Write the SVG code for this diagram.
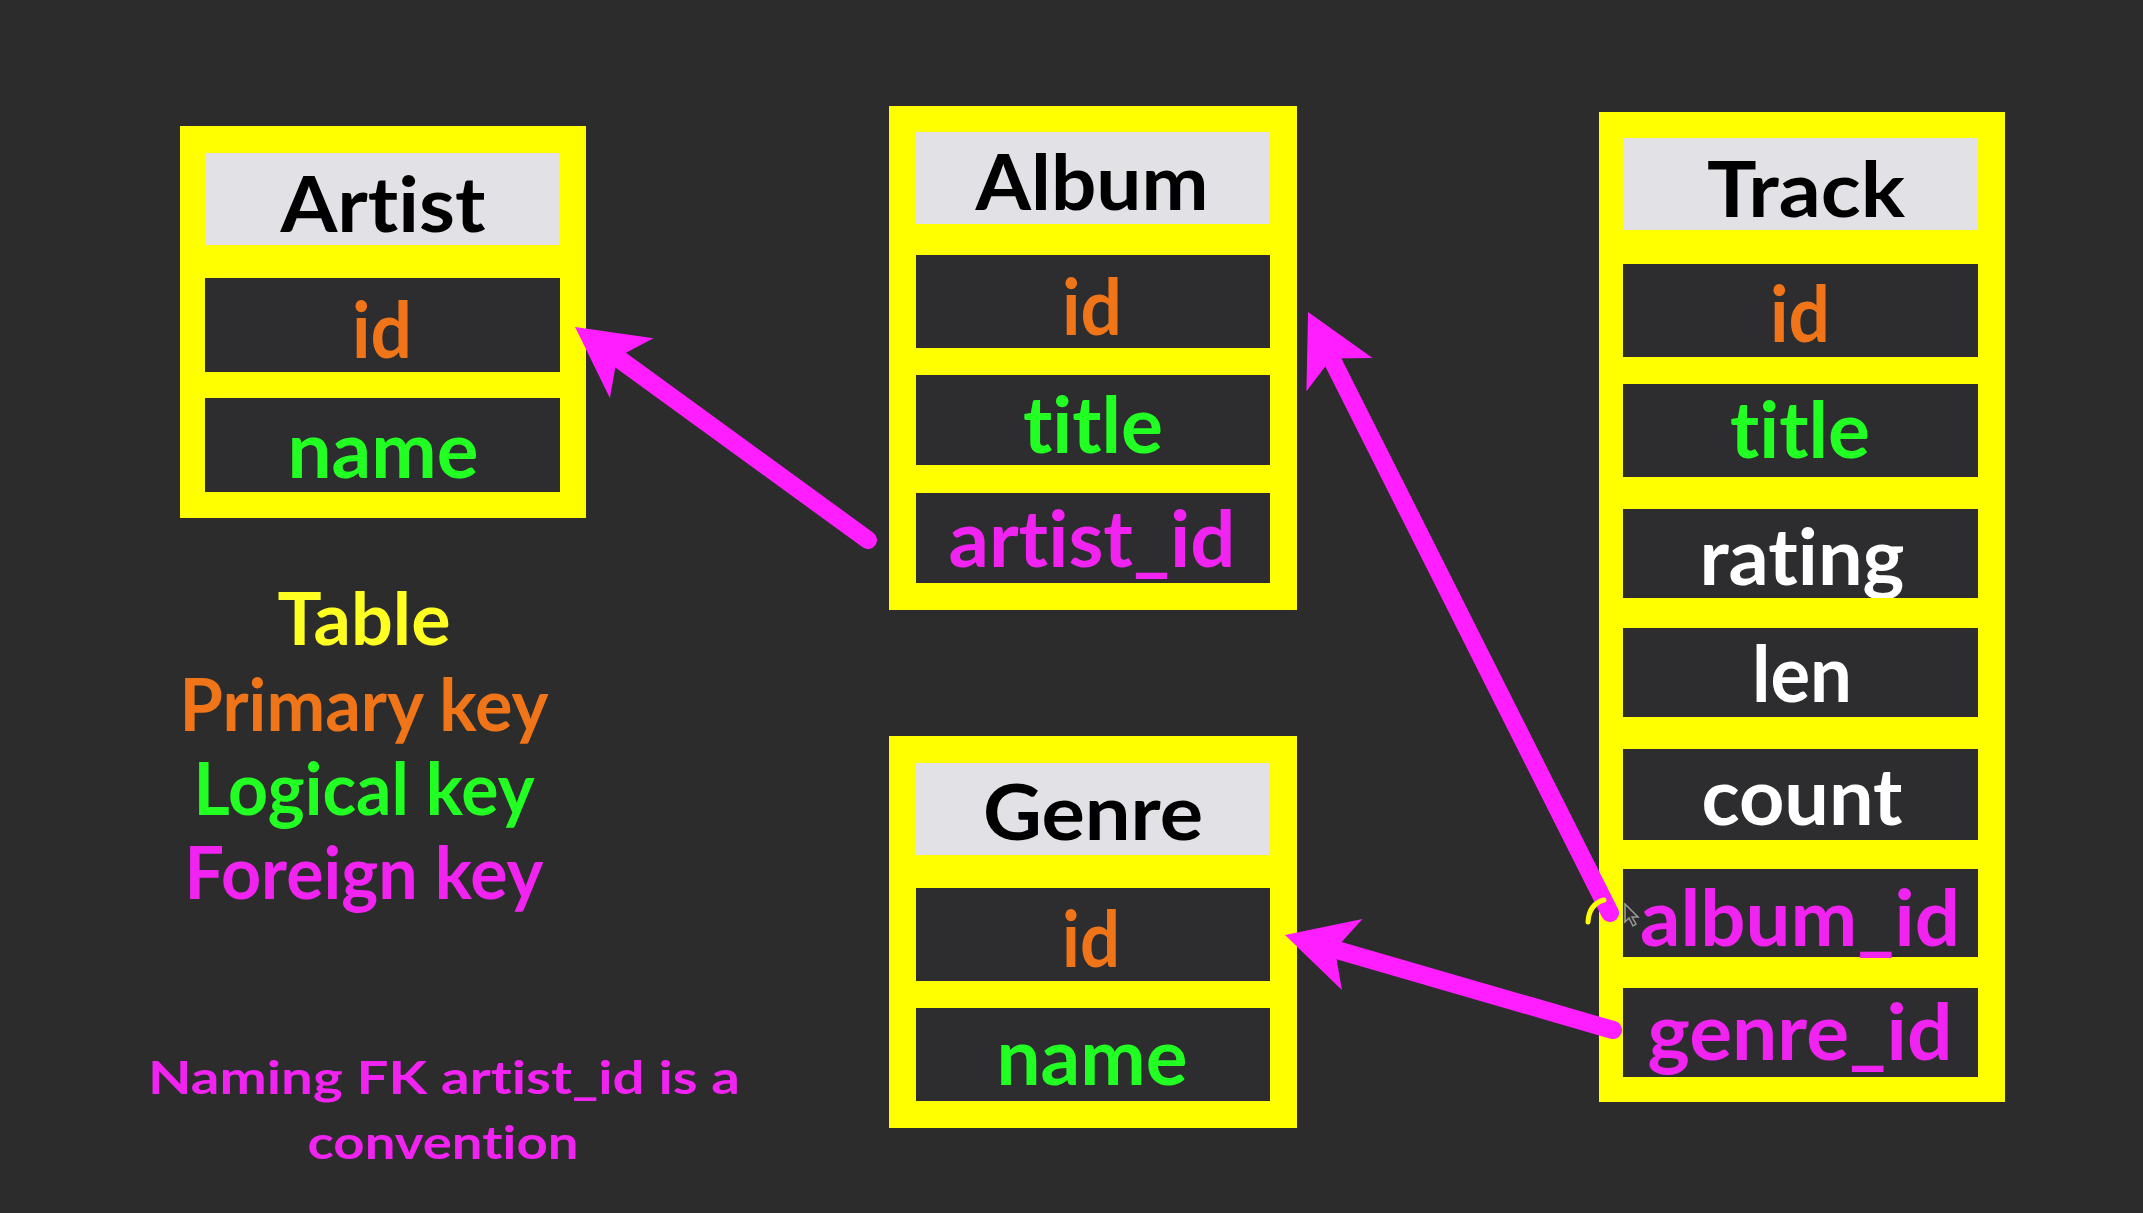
<svg xmlns="http://www.w3.org/2000/svg" width="2143" height="1213" viewBox="0 0 2143 1213">
  <defs>
    <style>
      .frame { fill: #ffff00; }
      .head { fill: #e2e2e6; }
      .row { fill: #2d2d30; }
      text { font-family: "Lato", "Open Sans", "Liberation Sans", sans-serif; font-weight: 700; text-anchor: middle; font-variant-ligatures: none; font-feature-settings: "liga" 0, "clig" 0; }
      .tname { font-size: 76px; fill: #000000; }
      .col { font-size: 78px; }
      .pk { fill: #f07418; }
      .lk { fill: #22ff22; }
      .fk { fill: #f023f0; }
      .plain { fill: #ffffff; }
      .legend { font-size: 72px; }
      .note { font-size: 46px; fill: #f023f0; }
      .link { fill: none; stroke: #ff1eff; stroke-width: 18; stroke-linecap: round; marker-end: url(#arrowhead); }
    </style>
    <marker id="arrowhead" markerUnits="userSpaceOnUse" orient="auto" overflow="visible" markerWidth="1" markerHeight="1" refX="0" refY="0">
      <path d="M50,0 L-20,-37 L-2,0 L-20,37 Z" fill="#ff1eff"/>
    </marker>
    <clipPath id="ratingClip">
      <rect x="1623" y="509" width="355" height="89"/>
    </clipPath>
  </defs>

  <!-- background -->
  <rect x="0" y="0" width="2143" height="1213" fill="#2c2c2c"/>

  <!-- Artist table -->
  <g id="artist">
    <rect class="frame" x="180" y="126" width="406" height="392"/>
    <rect class="head" x="205" y="153" width="355" height="92"/>
    <rect class="row" x="205" y="278" width="355" height="94"/>
    <rect class="row" x="205" y="398" width="355" height="94"/>
    <text class="tname" x="383" y="232" textLength="205" lengthAdjust="spacingAndGlyphs">Artist</text>
    <text class="col pk" x="382" y="358" textLength="60" lengthAdjust="spacingAndGlyphs">id</text>
    <text class="col lk" x="383" y="478" textLength="191" lengthAdjust="spacingAndGlyphs">name</text>
  </g>

  <!-- Album table -->
  <g id="album">
    <rect class="frame" x="889" y="106" width="408" height="504"/>
    <rect class="head" x="916" y="132" width="354" height="92"/>
    <rect class="row" x="916" y="255" width="354" height="93"/>
    <rect class="row" x="916" y="375" width="354" height="90"/>
    <rect class="row" x="916" y="493" width="354" height="90"/>
    <text class="tname" x="1092" y="210" textLength="233" lengthAdjust="spacingAndGlyphs">Album</text>
    <text class="col pk" x="1092" y="335" textLength="60" lengthAdjust="spacingAndGlyphs">id</text>
    <text class="col lk" x="1093" y="453" textLength="140" lengthAdjust="spacingAndGlyphs">title</text>
    <text class="col fk" x="1092" y="567" textLength="287" lengthAdjust="spacingAndGlyphs">artist_id</text>
  </g>

  <!-- Track table -->
  <g id="track">
    <rect class="frame" x="1599" y="112" width="406" height="990"/>
    <rect class="head" x="1623" y="138" width="355" height="92"/>
    <rect class="row" x="1623" y="264" width="355" height="93"/>
    <rect class="row" x="1623" y="384" width="355" height="93"/>
    <rect class="row" x="1623" y="509" width="355" height="89"/>
    <rect class="row" x="1623" y="628" width="355" height="89"/>
    <rect class="row" x="1623" y="749" width="355" height="91"/>
    <rect class="row" x="1623" y="869" width="355" height="88"/>
    <rect class="row" x="1623" y="988" width="355" height="89"/>
    <text class="tname" x="1806" y="217" textLength="198" lengthAdjust="spacingAndGlyphs">Track</text>
    <text class="col pk" x="1800" y="342" textLength="60" lengthAdjust="spacingAndGlyphs">id</text>
    <text class="col lk" x="1800" y="458" textLength="140" lengthAdjust="spacingAndGlyphs">title</text>
    <text class="col plain" x="1802" y="585" textLength="205" lengthAdjust="spacingAndGlyphs" clip-path="url(#ratingClip)">rating</text>
    <text class="col plain" x="1802" y="702" textLength="100" lengthAdjust="spacingAndGlyphs">len</text>
    <text class="col plain" x="1802" y="825" textLength="201" lengthAdjust="spacingAndGlyphs">count</text>
    <text class="col fk" x="1800" y="946" textLength="320" lengthAdjust="spacingAndGlyphs">album_id</text>
    <text class="col fk" x="1800" y="1060" textLength="305" lengthAdjust="spacingAndGlyphs">genre_id</text>
  </g>

  <!-- Genre table -->
  <g id="genre">
    <rect class="frame" x="889" y="736" width="408" height="392"/>
    <rect class="head" x="916" y="763" width="354" height="92"/>
    <rect class="row" x="916" y="888" width="354" height="93"/>
    <rect class="row" x="916" y="1008" width="354" height="93"/>
    <text class="tname" x="1093" y="840" textLength="220" lengthAdjust="spacingAndGlyphs">Genre</text>
    <text class="col pk" x="1091" y="967" textLength="58" lengthAdjust="spacingAndGlyphs">id</text>
    <text class="col lk" x="1092" y="1085" textLength="191" lengthAdjust="spacingAndGlyphs">name</text>
  </g>

  <!-- Legend -->
  <g id="legend">
    <text class="legend" x="364" y="645" fill="#ffff22" textLength="173" lengthAdjust="spacingAndGlyphs">Table</text>
    <text class="legend pk" x="364" y="731" textLength="369" lengthAdjust="spacingAndGlyphs">Primary key</text>
    <text class="legend lk" x="364" y="815" textLength="341" lengthAdjust="spacingAndGlyphs">Logical key</text>
    <text class="legend fk" x="364" y="899" textLength="359" lengthAdjust="spacingAndGlyphs">Foreign key</text>
  </g>

  <g id="note">
    <text class="note" x="444" y="1094" textLength="592" lengthAdjust="spacingAndGlyphs">Naming FK artist_id is a</text>
    <text class="note" x="443" y="1159" textLength="271" lengthAdjust="spacingAndGlyphs">convention</text>
  </g>

  <!-- Foreign key links -->
  <g id="connectors">
    <path class="link" d="M868,540 L615.5,356.4"/>
    <path class="link" d="M1610,913 L1330.5,356.7"/>
    <path class="link" d="M1613,1030 L1333,948.9"/>
  </g>

  <!-- pointer highlight -->
  <path d="M1588,922 Q1589,904 1604,900" fill="none" stroke="#ffff00" stroke-width="5" stroke-linecap="round"/>
  <path d="M1625,904 L1625,922 L1629,918 L1633,926 L1636,924 L1632,917 L1638,917 Z" fill="none" stroke="#9a9a9a" stroke-width="1.5"/>
</svg>
